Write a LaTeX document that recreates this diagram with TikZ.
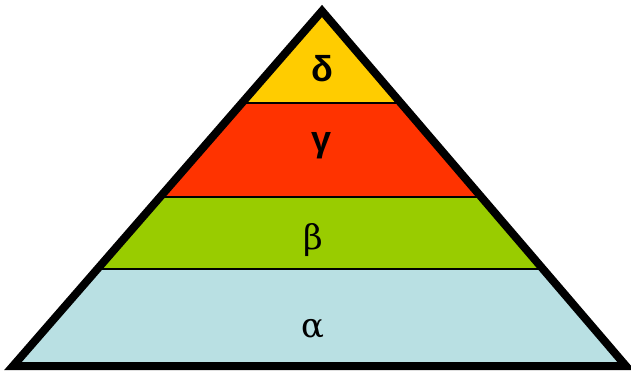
\documentclass[tikz,border=0pt]{standalone}
\usepackage{fontspec}
\setmainfont{Liberation Sans}
\newfontfamily\serifgr{DejaVu Serif}
\definecolor{cDelta}{HTML}{FFCC00}
\definecolor{cGamma}{HTML}{FF3300}
\definecolor{cBeta}{HTML}{99CC00}
\definecolor{cAlpha}{HTML}{B9E0E3}
\tikzset{
  lbl/.style={font=\fontsize{36}{36}\selectfont\bfseries, text=black, inner sep=0pt},
  slbl/.style={font=\serifgr\fontsize{34}{34}\selectfont, text=black, inner sep=0pt},
  band/.style={line width=1.3pt, draw=black},
  outline/.style={line width=8pt, draw=black, line join=miter}
}
\begin{document}
\begin{tikzpicture}[x=1pt,y=-1pt]
\useasboundingbox (0,0) rectangle (631,370);
\coordinate (A) at (322,11);
\coordinate (L) at (13,366);
\coordinate (R) at (626,366);
\begin{scope}
  \clip (A)--(L)--(R)--cycle;
  \fill[cDelta] (0,0) rectangle (631,103);
  \fill[cGamma] (0,103) rectangle (631,197);
  \fill[cBeta] (0,197) rectangle (631,269);
  \fill[cAlpha] (0,269) rectangle (631,370);
  \coordinate (b1l) at (0,103); \coordinate (b1r) at (631,103);
  \coordinate (b2l) at (0,197); \coordinate (b2r) at (631,197);
  \coordinate (b3l) at (0,269); \coordinate (b3r) at (631,269);
  \draw[band] (b1l)--(b1r);
  \draw[band] (b2l)--(b2r);
  \draw[band] (b3l)--(b3r);
\end{scope}
\draw[outline] (A)--(L)--(R)--cycle;
\node[lbl] (delta) at (322,69) {δ};
\node[lbl] (gamma) at (322,146) {γ};
\node[slbl] (beta) at (313,240) {β};
\node[slbl] (alpha) at (313,329) {α};
\end{tikzpicture}
\end{document}
